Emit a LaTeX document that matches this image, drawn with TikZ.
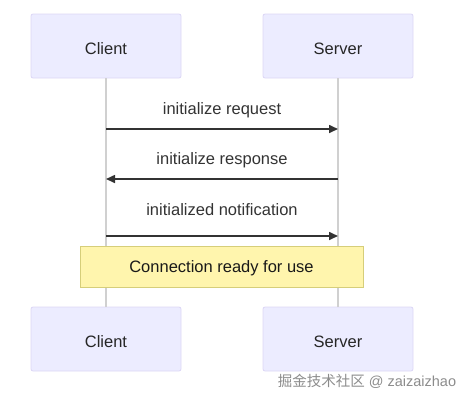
\documentclass[tikz,border=0pt]{standalone}
\usepackage{fontspec}
\setmainfont{Liberation Sans}
\newfontfamily\cjkfont{Noto Sans CJK SC}
\usetikzlibrary{arrows.meta}
\definecolor{actorfill}{HTML}{ECECFF}
\definecolor{actorline}{HTML}{DCD6F5}
\definecolor{lifecol}{HTML}{D0D0D0}
\definecolor{msgcol}{HTML}{333333}
\definecolor{notefill}{HTML}{FFF5AD}
\definecolor{noteline}{HTML}{D6CE7A}
\tikzset{
  actor/.style={draw=actorline, fill=actorfill, rounded corners=2pt, line width=0.8pt,
    minimum width=150pt, minimum height=64pt, text height=16pt, text depth=0pt,
    font=\fontsize{16.5}{19}\selectfont, text=black!85},
  lifeline/.style={draw=lifecol, line width=1.2pt},
  msg/.style={draw=msgcol, line width=1.6pt, -{Triangle[length=9pt,width=8pt]}},
  msglabel/.style={font=\fontsize{16.5}{19}\selectfont, text=black!80},
  notebox/.style={draw=noteline, fill=notefill, line width=0.8pt,
    minimum width=283pt, minimum height=41pt, text height=16pt, text depth=3.5pt,
    font=\fontsize{16.5}{19}\selectfont, text=black!90}
}
\begin{document}
\begin{tikzpicture}[x=1pt,y=-1pt]
        \useasboundingbox (0,0) rectangle (470,400);

        % Define nodes
        \node[actor] (clientTop) at (106,46) {Client};
        \node[actor] (serverTop) at (338,46) {Server};
        \node[actor] (clientBot) at (106,339) {Client};
        \node[actor] (serverBot) at (338,339) {Server};

        % Lifelines
        \draw[lifeline] (clientTop.south) -- (clientBot.north);
        \draw[lifeline] (serverTop.south) -- (serverBot.north);

        % Message ends on the lifelines
        \coordinate (c1) at (106,129);
        \coordinate (s1) at (338,129);
        \coordinate (c2) at (106,179);
        \coordinate (s2) at (338,179);
        \coordinate (c3) at (106,236);
        \coordinate (s3) at (338,236);

        % Client to server and back
        \draw[msg] (c1) -- (s1) node[msglabel, midway, yshift=19pt] {initialize request};
        \draw[msg] (s2) -- (c2) node[msglabel, midway, yshift=19pt] {initialize response};
        \draw[msg] (c3) -- (s3) node[msglabel, midway, yshift=26pt] {initialized notification};

        % Note over both
        \node[notebox] (note) at (221.5,266.5) {Connection ready for use};

        % Watermark
        \node[font=\fontsize{14.5}{17}\selectfont, text=black!45] (mark) at (367,381)
          {{\cjkfont 掘金技术社区} @ zaizaizhao};
\end{tikzpicture}
\end{document}
